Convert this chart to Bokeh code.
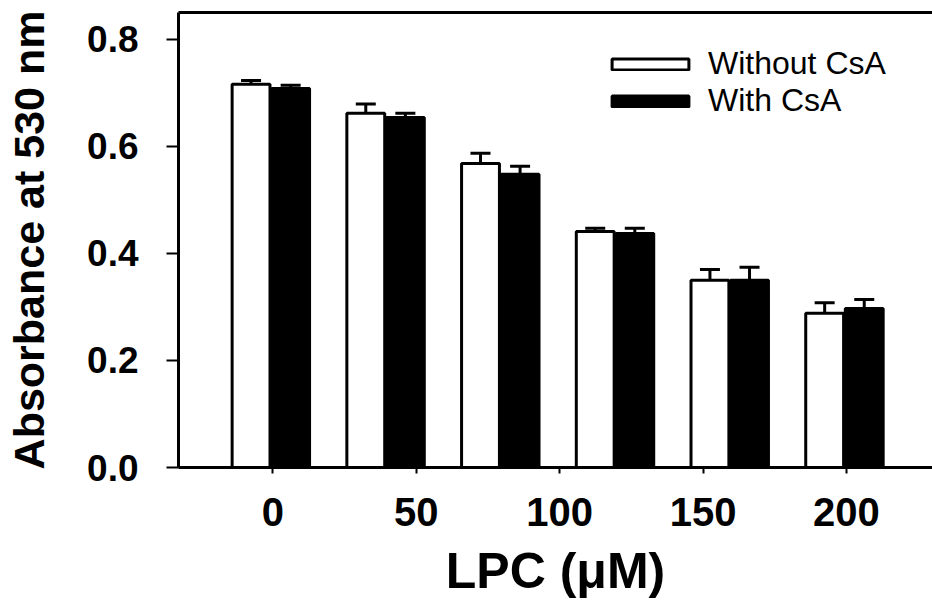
from bokeh.plotting import figure
from bokeh.models import (Range1d, FixedTicker, LinearAxis, Legend, LegendItem,
                          Whisker, TeeHead, ColumnDataSource, PrintfTickFormatter)
from bokeh.embed import file_html
from bokeh.resources import INLINE

# ---- data ----
lpc_positions = [0, 40, 80, 120, 160, 200]          # bar-group positions on the LPC axis
without_csa = [0.716, 0.662, 0.568, 0.441, 0.350, 0.288]
without_err = [0.007, 0.017, 0.019, 0.006, 0.020, 0.020]
with_csa = [0.708, 0.654, 0.548, 0.437, 0.350, 0.297]
with_err = [0.006, 0.008, 0.015, 0.010, 0.024, 0.017]
x_ticks = [0, 50, 100, 150, 200]
y_ticks = [0.0, 0.2, 0.4, 0.6, 0.8]
series_labels = ["Without CsA", "With CsA"]

# ---- styling constants ----
W_OFF, B_OFF, BAR_W = -7.6, 6.2, 13.2
BOLD_FONT = "Liberation Sans"
REG_FONT = "Liberation Sans"

src_w = ColumnDataSource(dict(
    x=[v + W_OFF for v in lpc_positions], top=without_csa,
    up=[a + b for a, b in zip(without_csa, without_err)]))
src_b = ColumnDataSource(dict(
    x=[v + B_OFF for v in lpc_positions], top=with_csa,
    up=[a + b for a, b in zip(with_csa, with_err)]))

p = figure(width=932, height=603, output_backend="svg", toolbar_location=None,
           x_range=Range1d(-32.9, 230), y_range=Range1d(0, 0.85),
           min_border_left=178, min_border_right=0, min_border_top=12,
           min_border_bottom=136)
p.outline_line_color = None
p.grid.visible = False
p.background_fill_color = "white"

rw = p.vbar(x="x", top="top", bottom=0, width=BAR_W, source=src_w,
            fill_color="white", line_color="black", line_width=3)
rb = p.vbar(x="x", top="top", bottom=0, width=BAR_W, source=src_b,
            fill_color="black", line_color="black", line_width=3)

for s in (src_w, src_b):
    wk = Whisker(source=s, base="x", lower="top", upper="up", dimension="height",
                 line_width=3, line_color="black", lower_head=None,
                 upper_head=TeeHead(size=20, line_width=3, line_color="black"))
    wk.level = "glyph"
    p.add_layout(wk)

# axes
xa = p.xaxis[0]
xa.ticker = FixedTicker(ticks=x_ticks)
xa.minor_tick_line_color = None
xa.major_tick_in = 0
xa.major_tick_out = 6
xa.major_tick_line_width = 2
xa.axis_line_width = 3
xa.major_label_text_font = BOLD_FONT
xa.major_label_text_font_style = "bold"
xa.major_label_text_font_size = "40px"
xa.major_label_text_color = "black"
xa.major_label_standoff = 24
xa.axis_label = "LPC (\u03bcM)"
xa.axis_label_text_font = BOLD_FONT
xa.axis_label_text_font_style = "bold"
xa.axis_label_text_font_size = "50px"
xa.axis_label_text_color = "black"
xa.axis_label_standoff = 14

ya = p.yaxis[0]
ya.ticker = FixedTicker(ticks=y_ticks)
ya.formatter = PrintfTickFormatter(format="%.1f")
ya.minor_tick_line_color = None
ya.major_tick_in = 0
ya.major_tick_out = 12
ya.major_tick_line_width = 2
ya.axis_line_width = 3
ya.major_label_text_font = BOLD_FONT
ya.major_label_text_font_style = "bold"
ya.major_label_text_font_size = "37px"
ya.major_label_text_color = "black"
ya.major_label_standoff = 28
ya.axis_label = "Absorbance at 530 nm"
ya.axis_label_text_font = BOLD_FONT
ya.axis_label_text_font_style = "bold"
ya.axis_label_text_font_size = "43px"
ya.axis_label_text_color = "black"
ya.axis_label_standoff = 31

top_axis = LinearAxis(major_tick_line_color=None, minor_tick_line_color=None,
                      major_label_text_font_size="0px", major_label_standoff=0,
                      axis_line_width=3, ticker=FixedTicker(ticks=[]))
p.add_layout(top_axis, "above")

legend = Legend(items=[LegendItem(label=series_labels[0], renderers=[rw]),
                       LegendItem(label=series_labels[1], renderers=[rb])],
                location=(424, 348), glyph_width=96, glyph_height=14,
                label_text_font=REG_FONT, label_text_font_size="32px",
                label_text_color="black",
                label_standoff=10, spacing=-3, padding=0, margin=0,
                border_line_color=None, background_fill_alpha=0)
p.add_layout(legend)

open("out.html", "w").write(file_html(p, INLINE))
